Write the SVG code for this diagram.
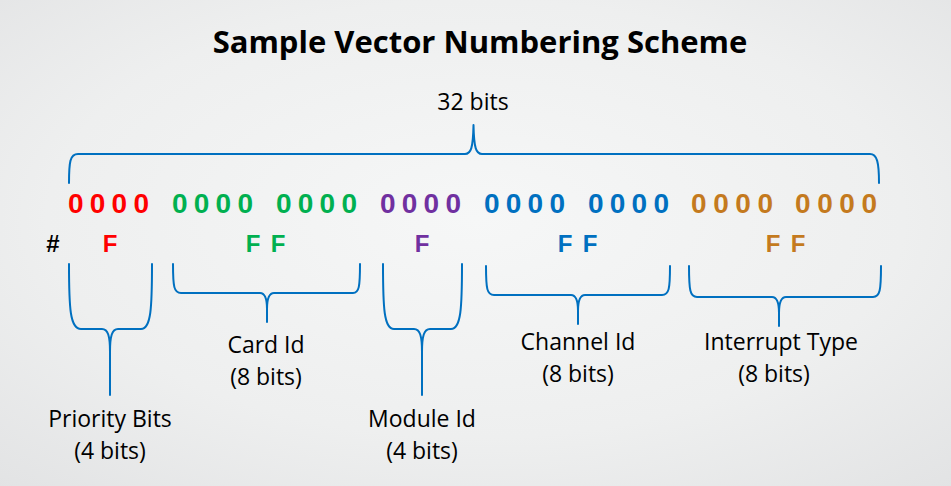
<svg xmlns="http://www.w3.org/2000/svg" width="951" height="486" viewBox="0 0 951 486">
<defs>
<radialGradient id="bg" cx="0.5" cy="0.45" r="0.75">
<stop offset="0" stop-color="#f6f7f7"/>
<stop offset="0.6" stop-color="#eeefef"/>
<stop offset="1" stop-color="#e2e3e4"/>
</radialGradient>
</defs>
<style>
.title{font-family:"Open Sans","Liberation Sans",sans-serif;font-weight:bold;font-size:31px;fill:#000}
.lbl{font-family:"Open Sans","Liberation Sans",sans-serif;font-size:23px;fill:#000}
.dig{font-family:"Liberation Sans",Arial,sans-serif;font-weight:bold;font-size:28px}
.hex{font-family:"Liberation Sans",Arial,sans-serif;font-weight:bold;font-size:24px;text-anchor:middle}
.brace{fill:none;stroke:#0070C0;stroke-width:2;stroke-linejoin:round;stroke-linecap:round}
.red{fill:#FF0000}.grn{fill:#00B050}.pur{fill:#7030A0}.blu{fill:#0070C0}.org{fill:#C47A1E}
</style>
<rect width="951" height="486" fill="url(#bg)"/>
<text class="title" x="480" y="53" text-anchor="middle">Sample Vector Numbering Scheme</text>
<g id="total">
<text class="lbl" x="473" y="110" text-anchor="middle">32 bits</text>
</g>
<g id="bits">
<text class="dig red" x="68" y="213" textLength="81" lengthAdjust="spacing">0 0 0 0</text>
<text class="dig grn" x="172" y="213" textLength="81" lengthAdjust="spacing">0 0 0 0</text>
<text class="dig grn" x="276" y="213" textLength="81" lengthAdjust="spacing">0 0 0 0</text>
<text class="dig pur" x="380" y="213" textLength="81" lengthAdjust="spacing">0 0 0 0</text>
<text class="dig blu" x="484" y="213" textLength="81" lengthAdjust="spacing">0 0 0 0</text>
<text class="dig blu" x="588" y="213" textLength="81" lengthAdjust="spacing">0 0 0 0</text>
<text class="dig org" x="691" y="213" textLength="82" lengthAdjust="spacing">0 0 0 0</text>
<text class="dig org" x="795" y="213" textLength="82" lengthAdjust="spacing">0 0 0 0</text>
</g>
<g id="hex">
<text class="hex" x="53" y="252" style="fill:#000">#</text>
<text class="hex red" x="110" y="252">F</text>
<text class="hex grn" x="253" y="252">F</text>
<text class="hex grn" x="278" y="252">F</text>
<text class="hex pur" x="422" y="252">F</text>
<text class="hex blu" x="565" y="252">F</text>
<text class="hex blu" x="590" y="252">F</text>
<text class="hex org" x="773" y="252">F</text>
<text class="hex org" x="798" y="252">F</text>
</g>
<g id="connectors">
<path class="brace" d="M69,183 C69,162 70,154 78,154 L465,154 C471,154 473,148 473.5,125 C474,148 476,154 482,154 L870,154 C877,154 879,162 879,183"/>
<path class="brace" d="M69,264 C69,308 70,329 81,329 L102,329 C108,329 110,336 110,352 L110,395 M110,352 C110,336 112,329 118,329 L141,329 C151,329 152,308 152,264"/>
<path class="brace" d="M173,264 C173,287 174,293 181,293 L260,293 C265,293 267,298 267,309 L267,322 M267,309 C267,298 269,293 274,293 L353,293 C359,293 360,287 360,264"/>
<path class="brace" d="M383,264 C383,308 384,329 394,329 L414,329 C420,329 422,336 422,352 L422,395 M422,352 C422,336 424,329 430,329 L451,329 C461,329 462,308 462,264"/>
<path class="brace" d="M486,266 C486,289 487,295 494,295 L571,295 C576,295 578,300 578,311 L578,324 M578,311 C578,300 580,295 585,295 L662,295 C669,295 670,289 670,266"/>
<path class="brace" d="M689,266 C689,290 690,297 697,297 L772,297 C777,297 779,302 779,313 L779,326 M779,313 C779,302 781,297 786,297 L873,297 C880,297 881,290 881,266"/>
</g>
<g id="priority">
<text class="lbl" x="110" y="427" text-anchor="middle">Priority Bits</text>
<text class="lbl" x="110" y="459" text-anchor="middle">(4 bits)</text>
</g>
<g id="card">
<text class="lbl" x="266" y="353" text-anchor="middle">Card Id</text>
<text class="lbl" x="266" y="385" text-anchor="middle">(8 bits)</text>
</g>
<g id="module">
<text class="lbl" x="422" y="427" text-anchor="middle">Module Id</text>
<text class="lbl" x="422" y="459" text-anchor="middle">(4 bits)</text>
</g>
<g id="channel">
<text class="lbl" x="578" y="350" text-anchor="middle">Channel Id</text>
<text class="lbl" x="578" y="382" text-anchor="middle">(8 bits)</text>
</g>
<g id="interrupt">
<text class="lbl" x="781" y="350" text-anchor="middle">Interrupt Type</text>
<text class="lbl" x="774" y="382" text-anchor="middle">(8 bits)</text>
</g>
</svg>
